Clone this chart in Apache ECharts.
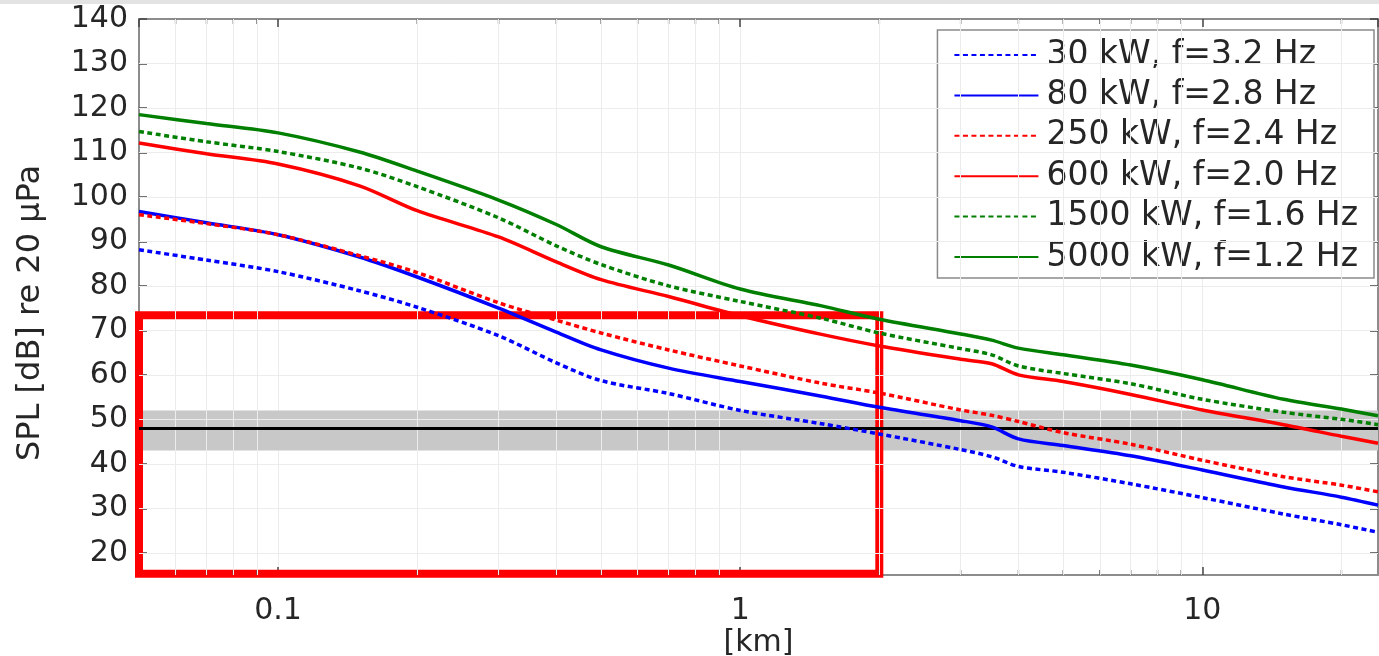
<!DOCTYPE html>
<html>
<head>
<meta charset="utf-8">
<script src="https://cdn.jsdelivr.net/npm/echarts@6/dist/echarts.min.js"></script>
<style>
html,body{margin:0;padding:0;background:#fff;}
#chart{width:1379px;height:656px;}
</style>
</head>
<body>
<div id="chart"></div>
<script>
// ---- data ----
const distanceKm = [0.05,0.07,0.1,0.15,0.2,0.3,0.4,0.5,0.7,1,1.5,2,3,3.5,4,5,7,10,15,20,24];
const spl30   = [88.1,85.8,83.2,78.9,75.2,68.8,62.7,58.7,55.8,52.0,49.0,46.7,43.2,41.6,39.4,38.1,35.5,32.4,28.7,26.3,24.6];
const spl80   = [96.7,94.2,91.5,86.5,82.0,75.0,69.6,65.6,61.5,58.5,55.2,52.7,49.7,48.3,45.6,44.1,41.8,38.6,34.8,32.5,30.7];
const spl250  = [96.0,94.0,91.5,86.8,83.0,76.2,72.3,69.4,65.6,62.0,58.1,55.9,52.1,50.9,49.5,47.0,44.4,40.8,37.1,35.2,33.7];
const spl600  = [112.1,109.7,107.4,102.5,96.9,91.0,85.4,81.4,77.6,73.3,69.1,66.5,63.5,62.5,60.0,58.5,55.6,52.1,48.8,46.2,44.6];
const spl1500 = [114.7,112.4,110.2,106.5,102.3,95.3,89.0,84.8,80.0,76.5,72.7,69.4,65.9,64.5,62.0,60.3,58.0,54.5,51.6,50.0,48.8];
const spl5000 = [118.5,116.5,114.4,110.1,105.8,99.3,93.8,88.8,84.7,79.3,75.5,72.5,69.2,67.8,66.0,64.5,62.2,58.9,54.5,52.3,50.8];
const seriesNames = ['30 kW, f=3.2 Hz','80 kW, f=2.8 Hz','250 kW, f=2.4 Hz','600 kW, f=2.0 Hz','1500 kW, f=1.6 Hz','5000 kW, f=1.2 Hz'];
const yTickValues = [20,30,40,50,60,70,80,90,100,110,120,130,140];
const xMinorValues = [0.06,0.07,0.08,0.09,0.2,0.3,0.4,0.5,0.6,0.7,0.8,0.9,2,3,4,5,6,7,8,9,20];
const xMin = 0.05, xMax = 24, yMin = 15, yMax = 140;
const thresholdSPL = 48, bandLow = 43, bandHigh = 52;
const highlightBox = {x0: 0.0495, y0: 73.4, x1: 2, y1: 15.3};

// ---- chart ----
const chart = echarts.init(document.getElementById('chart'));
const FONT = 'DejaVu Sans';
const TXT = '#262626';
const AX = '#8c8c8c';
const GRID = '#ececec';

function pairs(vals){ return distanceKm.map((d,i)=>[d, vals[i]]); }
const styles = [
  {color:'#0000ff', type:[5,3.5]},
  {color:'#0000ff', type:'solid'},
  {color:'#ff0000', type:[5,3.5]},
  {color:'#ff0000', type:'solid'},
  {color:'#007f00', type:[5,3.5]},
  {color:'#007f00', type:'solid'}
];
const allVals = [spl30, spl80, spl250, spl600, spl1500, spl5000];

const lineSeries = allVals.map((v,i)=>({
  name: seriesNames[i],
  type: 'line',
  data: pairs(v),
  symbol: 'none',
  smooth: 0.3,
  z: 5,
  color: styles[i].color,
  lineStyle: {color: styles[i].color, width: 3.5, type: styles[i].type, cap: 'butt'}
}));

const gridLinesY = yTickValues.filter(v=>v<yMax).map(v=>({yAxis: v}));
const gridLinesX = xMinorValues.map(v=>({xAxis: v}));

const helperSeries = [
  {
    name: 'grid', type: 'line', data: [], silent: true, z: 1,
    markLine: {
      silent: true, symbol: 'none', label: {show: false},
      lineStyle: {color: GRID, width: 1, type: 'solid'},
      data: gridLinesY.concat(gridLinesX)
    }
  },
  {
    name: 'band', type: 'line', data: [], silent: true, z: 2,
    markArea: {
      silent: true, itemStyle: {color: '#c8c8c8'},
      data: [[{yAxis: bandLow, xAxis: xMin}, {yAxis: bandHigh, xAxis: xMax}]]
    },
    markLine: {
      silent: true, symbol: 'none', label: {show: false},
      lineStyle: {color: '#000', width: 3, type: 'solid'},
      data: [{yAxis: thresholdSPL}]
    }
  },
  {
    name: 'minorBottom', type: 'scatter', silent: true, z: 3,
    symbol: 'rect', symbolSize: [1.5, 5], symbolOffset: [0, -2.5],
    itemStyle: {color: '#555'},
    data: xMinorValues.map(v=>[v, yMin])
  },
  {
    name: 'minorTop', type: 'scatter', silent: true, z: 3,
    symbol: 'rect', symbolSize: [1.5, 5], symbolOffset: [0, 2.5],
    itemStyle: {color: '#555'},
    data: xMinorValues.map(v=>[v, yMax])
  },
  {
    name: 'box', type: 'line', data: [], silent: true, z: 20, clip: false,
    markArea: {
      silent: true,
      itemStyle: {color: 'rgba(0,0,0,0)', borderColor: '#ff0000', borderWidth: 8, borderRadius: 3},
      data: [[{coord: [highlightBox.x0, highlightBox.y0]}, {coord: [highlightBox.x1, highlightBox.y1]}]]
    }
  }
];

const option = {
  animation: false,
  backgroundColor: '#ffffff',
  textStyle: {fontFamily: FONT},
  graphic: [{type: 'rect', left: 0, top: 0, shape: {width: 1379, height: 4}, style: {fill: '#e3e3e3'}}],
  grid: {left: 139, right: 1, top: 19, bottom: 81, containLabel: false, outerBoundsMode: 'none'},
  legend: {
    data: seriesNames,
    orient: 'vertical',
    right: 5, top: 30,
    padding: [8.5, 16, 4.5, 16],
    itemWidth: 84, itemHeight: 14, itemGap: 7.4,
    itemStyle: {opacity: 0},
    backgroundColor: '#ffffff',
    borderColor: '#8a8a8a', borderWidth: 1.5,
    textStyle: {fontFamily: FONT, fontSize: 33, color: TXT, lineHeight: 33, padding: [0, 0, 0, 3]},
    selectedMode: false
  },
  xAxis: [
    {
      type: 'log', logBase: 10, min: xMin, max: xMax,
      name: '[km]', nameLocation: 'middle', nameGap: 53, nameMoveOverlap: false,
      nameTextStyle: {fontFamily: FONT, fontSize: 30, color: TXT},
      axisLine: {show: true, lineStyle: {color: AX, width: 2}},
      axisTick: {show: true, inside: true, length: 8, lineStyle: {color: '#444', width: 1.5}},
      axisLabel: {fontFamily: FONT, fontSize: 30, color: TXT, margin: 21, showMinLabel: false, showMaxLabel: false},
      splitLine: {show: true, lineStyle: {color: GRID, width: 1}},
      minorTick: {show: false}
    },
    {
      type: 'log', logBase: 10, min: xMin, max: xMax, position: 'top',
      axisLine: {show: true, lineStyle: {color: AX, width: 2}},
      axisTick: {show: true, inside: true, length: 8, lineStyle: {color: '#444', width: 1.5}},
      axisLabel: {show: false},
      splitLine: {show: false}
    }
  ],
  yAxis: [
    {
      type: 'value', min: yMin, max: yMax,
      name: 'SPL [dB] re 20 \u03bcPa', nameLocation: 'middle', nameGap: 92, nameMoveOverlap: false,
      nameTextStyle: {fontFamily: FONT, fontSize: 32, color: TXT, padding: [0, 32, 0, 0]},
      axisLine: {show: true, lineStyle: {color: AX, width: 2}},
      axisTick: {show: true, inside: true, length: 8, customValues: yTickValues, lineStyle: {color: '#444', width: 1.5}},
      axisLabel: {fontFamily: FONT, fontSize: 30, color: TXT, margin: 11, customValues: yTickValues},
      splitLine: {show: false}
    },
    {
      type: 'value', min: yMin, max: yMax, position: 'right',
      axisLine: {show: true, lineStyle: {color: AX, width: 2}},
      axisTick: {show: true, inside: true, length: 8, customValues: yTickValues, lineStyle: {color: '#444', width: 1.5}},
      axisLabel: {show: false},
      splitLine: {show: false}
    }
  ],
  series: helperSeries.concat(lineSeries)
};
chart.setOption(option);
</script>
</body>
</html>
